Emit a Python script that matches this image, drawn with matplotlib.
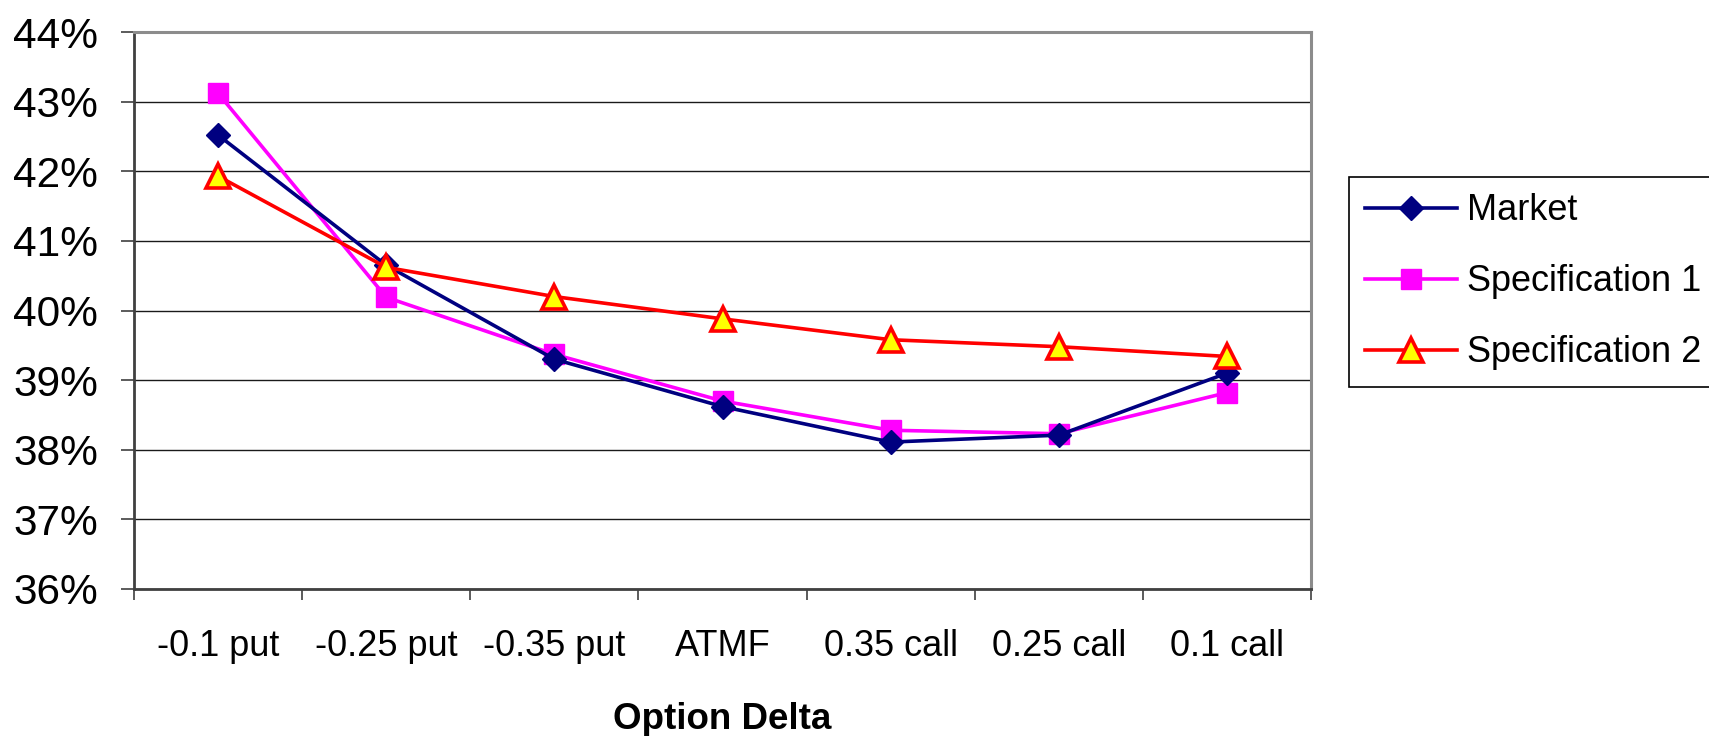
"""Figure: implied vol smile, market vs two model specifications."""
import matplotlib
matplotlib.use("Agg")
import matplotlib.pyplot as plt
from matplotlib.ticker import FormatStrFormatter, FixedLocator

plt.rcParams.update({"font.family": ["Liberation Sans", "DejaVu Sans"],
                     "figure.dpi": 100})

categories = ["-0.1 put", "-0.25 put", "-0.35 put", "ATMF",
              "0.35 call", "0.25 call", "0.1 call"]
market = [42.52, 40.65, 39.30, 38.62, 38.11, 38.21, 39.10]
spec1  = [43.12, 40.19, 39.37, 38.70, 38.28, 38.23, 38.82]
spec2  = [41.93, 40.62, 40.20, 39.88, 39.58, 39.48, 39.34]
yticks = [36, 37, 38, 39, 40, 41, 42, 43, 44]

fig = plt.figure(figsize=(17.09, 7.36), facecolor="white")
ax = fig.add_axes([134 / 1709, 1 - 589 / 736, (1311 - 134) / 1709, (589 - 32) / 736])

x = list(range(len(categories)))
ax.plot(x, market, color="#000080", lw=2.6, marker="D", ms=12.5,
        mfc="#000080", mec="#000080", label="Market", zorder=4)
ax.plot(x, spec1, color="#FF00FF", lw=2.6, marker="s", ms=15,
        mfc="#FF00FF", mec="#FF00FF", label="Specification 1", zorder=3)
ax.plot(x, spec2, color="#FF0000", lw=2.6, marker="^", ms=17,
        mfc="#FFFF00", mec="#FF0000", mew=2.6, label="Specification 2", zorder=5)

ax.set_xlim(-0.5, len(categories) - 0.5)
ax.set_ylim(36, 44)
ax.set_yticks(yticks)
ax.yaxis.set_major_formatter(FormatStrFormatter("%d%%"))
ax.set_xticks(x)
ax.set_xticklabels(categories)
ax.xaxis.set_minor_locator(FixedLocator([i - 0.5 for i in range(len(categories) + 1)]))

ax.grid(axis="y", color="#1a1a1a", lw=1.0)
ax.set_axisbelow(True)
ax.tick_params(axis="y", direction="out", length=9.5, width=1.2, color="#404040",
               labelsize=30.5, pad=16.5)
ax.tick_params(axis="x", which="major", length=0, labelsize=26, pad=29)
ax.tick_params(axis="x", which="minor", direction="out", length=8, width=1.2,
               color="#404040")
for side in ("left", "bottom"):
    ax.spines[side].set_color("#404040")
    ax.spines[side].set_linewidth(2.0)
for side in ("top", "right"):
    ax.spines[side].set_color("#8c8c8c")
    ax.spines[side].set_linewidth(2.2)

ax.set_xlabel("Option Delta", fontsize=26.5, fontweight="bold", labelpad=27.5)

leg = ax.legend(loc="upper left", bbox_to_anchor=(1349 / 1709, 1 - 177 / 736),
                bbox_transform=fig.transFigure, fontsize=26, frameon=True,
                fancybox=False, edgecolor="black", framealpha=1,
                borderaxespad=0, borderpad=0.45, handlelength=2.55,
                handletextpad=0.28, labelspacing=1.0)
leg.get_frame().set_linewidth(1.2)

fig.savefig("out.png", dpi=100, facecolor="white")
